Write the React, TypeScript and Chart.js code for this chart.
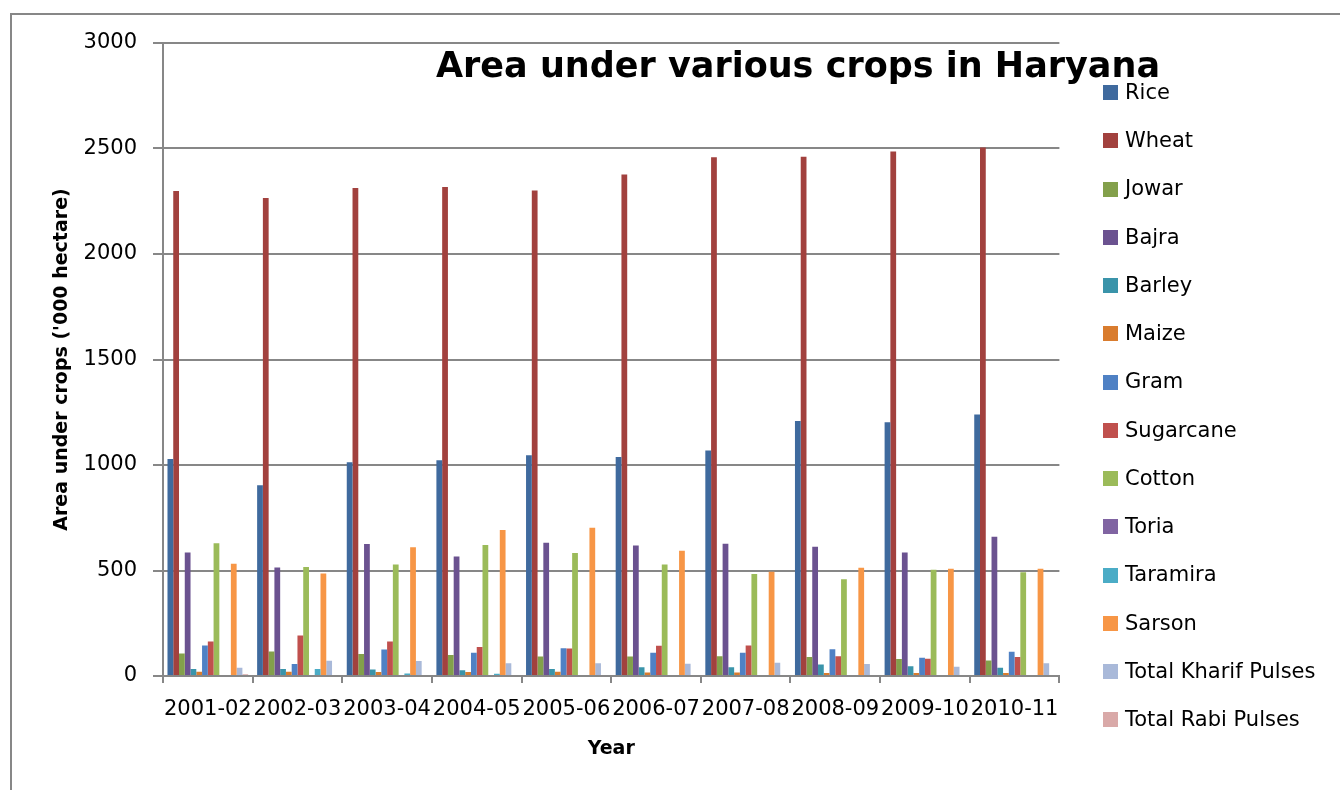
import React, { useEffect, useRef } from 'react';
import { Chart, registerables } from 'chart.js';

Chart.register(...registerables);

const chartTitle = 'Area under various crops in Haryana';
const yAxisTitle = "Area under crops ('000 hectare)";
const xAxisTitle = 'Year';

const years = ['2001-02', '2002-03', '2003-04', '2004-05', '2005-06', '2006-07', '2007-08', '2008-09', '2009-10', '2010-11'];

const rice = [1028, 904, 1013, 1022, 1046, 1038, 1069, 1208, 1203, 1239];
const wheat = [2298, 2265, 2313, 2317, 2301, 2377, 2459, 2461, 2486, 2505];
const jowar = [107, 116, 104, 99, 93, 93, 94, 90, 80, 74];
const bajra = [585, 514, 626, 566, 632, 618, 627, 613, 585, 660];
const barley = [33, 33, 31, 27, 33, 41, 42, 55, 46, 39];
const maize = [20, 20, 19, 19, 20, 17, 17, 14, 14, 14];
const gram = [145, 57, 126, 110, 132, 110, 110, 127, 86, 115];
const sugarcane = [164, 192, 164, 137, 130, 143, 145, 94, 82, 90];
const cotton = [629, 517, 528, 621, 583, 528, 484, 458, 503, 492];
const toria = [null, null, null, null, null, null, null, null, null, null];
const taramira = [null, 33, 12, 11, null, null, null, null, null, null];
const sarson = [532, 486, 610, 692, 703, 594, 494, 513, 508, 508];
const kharifPulses = [39, 72, 71, 60, 61, 58, 63, 57, 44, 61];
const rabiPulses = [8, 5, 5, 5, 5, 5, 5, 5, 5, 5];

const seriesNames = ['Rice', 'Wheat', 'Jowar', 'Bajra', 'Barley', 'Maize', 'Gram', 'Sugarcane', 'Cotton', 'Toria', 'Taramira', 'Sarson', 'Total Kharif Pulses', 'Total Rabi Pulses'];
const seriesValues = [rice, wheat, jowar, bajra, barley, maize, gram, sugarcane, cotton, toria, taramira, sarson, kharifPulses, rabiPulses];
const seriesColors = ['#3F6A9E', '#A2413E', '#83A04B', '#6B5290', '#3A94AA', '#D97C2E', '#4F81C4', '#C0504D', '#9BBB59', '#8064A2', '#4BACC6', '#F79646', '#A9B9D9', '#D9A9A8'];

const yTicks = [0, 500, 1000, 1500, 2000, 2500, 3000];

const FONT = "'DejaVu Sans', sans-serif";
const GRID = '#878787';

const framePlugin = {
  id: 'frame',
  beforeDraw(chart: any) {
    const ctx = chart.ctx;
    ctx.save();
    ctx.strokeStyle = GRID;
    ctx.lineWidth = 2;
    ctx.beginPath();
    ctx.moveTo(11, 800);
    ctx.lineTo(11, 14);
    ctx.lineTo(1350, 14);
    ctx.stroke();
    ctx.restore();
  },
};

const titlePlugin = {
  id: 'insideTitle',
  afterDraw(chart: any) {
    const ctx = chart.ctx;
    ctx.save();
    ctx.font = `bold 35px ${FONT}`;
    ctx.fillStyle = '#000';
    ctx.textAlign = 'center';
    ctx.textBaseline = 'middle';
    ctx.fillText(chartTitle, 798, 68);
    ctx.restore();
  },
};

const sideLegendPlugin = {
  id: 'sideLegend',
  afterDraw(chart: any) {
    const ctx = chart.ctx;
    ctx.save();
    ctx.font = `21px ${FONT}`;
    ctx.textAlign = 'left';
    ctx.textBaseline = 'middle';
    chart.data.datasets.forEach((ds: any, i: number) => {
      const y = 92.5 + i * 48.25;
      ctx.fillStyle = ds.backgroundColor;
      ctx.fillRect(1103, Math.round(y - 7.5), 15, 15);
      ctx.fillStyle = '#000';
      ctx.fillText(ds.label, 1125, y + 1);
    });
    ctx.restore();
  },
};

export default function App() {
  const canvasRef = useRef<HTMLCanvasElement | null>(null);

  useEffect(() => {
    if (!canvasRef.current) return;
    Chart.defaults.color = '#000';
    const chart = new Chart(canvasRef.current, {
      type: 'bar',
      data: {
        labels: years,
        datasets: seriesNames.map((name, i) => ({
          label: name,
          data: seriesValues[i],
          backgroundColor: seriesColors[i],
          borderWidth: 0,
          categoryPercentage: 0.9,
          barPercentage: 1.0,
        })),
      },
      options: {
        responsive: false,
        animation: false,
        devicePixelRatio: 1,
        layout: { padding: { left: 0, top: 43, right: 280.6, bottom: 0 } },
        plugins: {
          legend: { display: false },
          title: { display: false },
          tooltip: { enabled: false },
        },
        scales: {
          x: {
            afterFit(scale: any) { scale.height = 114; },
            grid: { offset: true, drawOnChartArea: false, drawTicks: true, tickLength: 7, color: GRID, lineWidth: 2 },
            border: { display: true, color: GRID, width: 2 },
            ticks: { autoSkip: false, maxRotation: 0, minRotation: 0, padding: 14, font: { family: FONT, size: 21 }, color: '#000' },
            title: { display: true, text: xAxisTitle, font: { family: FONT, size: 19, weight: 'bold' }, color: '#000', padding: { top: 0, bottom: 30 } },
          },
          y: {
            min: 0,
            max: 3000,
            afterFit(scale: any) { scale.width = 163; },
            afterBuildTicks(scale: any) { scale.ticks = yTicks.map((v) => ({ value: v })); },
            grid: { color: GRID, lineWidth: 2, tickLength: 10, drawTicks: true },
            border: { display: true, color: GRID, width: 2 },
            ticks: { stepSize: 500, padding: 16, font: { family: FONT, size: 21 }, color: '#000', callback: (v: any) => String(v) },
            title: { display: true, text: yAxisTitle, font: { family: FONT, size: 19, weight: 'bold' }, color: '#000', padding: { top: 50.6, bottom: 0 } },
          },
        },
      },
      plugins: [framePlugin, titlePlugin, sideLegendPlugin],
    } as any);
    return () => chart.destroy();
  }, []);

  return (
    <div style={{ position: 'absolute', left: 0, top: 0, width: 1340, height: 790, background: '#fff' }}>
      <canvas ref={canvasRef} width={1340} height={790} style={{ display: 'block', width: 1340, height: 790 }} />
    </div>
  );
}
